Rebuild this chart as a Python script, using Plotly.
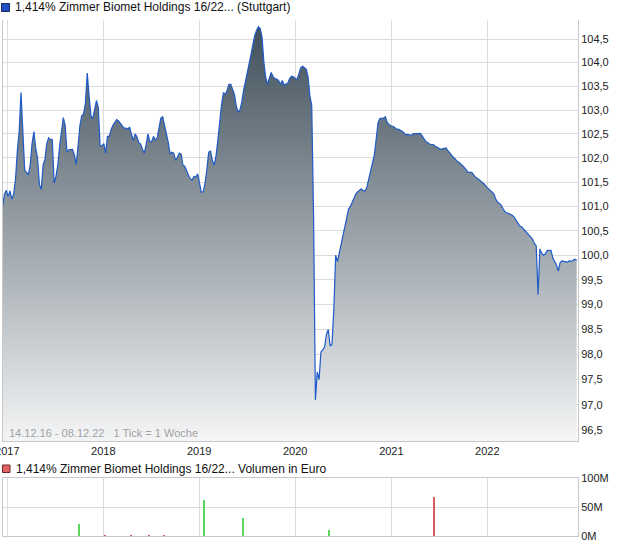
import plotly.graph_objects as go
import pandas as pd

# ---------------- data ----------------
start_date = "2016-12-14"          # 1 Tick = 1 Woche
price = [
    101.0, 101.25, 101.33, 101.2, 101.32, 101.15, 101.25, 101.55, 102.15, 102.55,
    103.37, 102.5, 101.75, 101.7, 101.65, 101.85, 102.3, 102.55, 102.2, 102.0,
    101.45, 101.35, 101.85, 101.97, 102.3, 102.42, 102.38, 102.38, 101.48, 101.62,
    101.85, 102.25, 102.58, 102.84, 102.68, 102.12, 102.17, 102.18, 102.18, 102.06,
    101.87, 102.25, 102.67, 102.88, 102.92, 103.15, 103.78, 103.3, 102.88, 102.82,
    103.05, 103.2, 103.05, 102.25, 102.25, 102.3, 102.1, 102.45, 102.45, 102.6,
    102.68, 102.75, 102.8, 102.77, 102.72, 102.68, 102.62, 102.62, 102.6, 102.64,
    102.48, 102.36, 102.5, 102.44, 102.32, 102.29, 102.18, 102.1, 102.28, 102.5,
    102.34, 102.34, 102.45, 102.37, 102.42, 102.65, 102.83, 102.86, 102.7, 102.55,
    102.33, 102.09, 102.12, 102.1, 101.95, 102.01, 102.1, 102.08, 101.85, 101.83,
    101.72, 101.64, 101.57, 101.54, 101.62, 101.6, 101.67, 101.5, 101.29, 101.3,
    101.47, 101.76, 102.12, 102.14, 101.95, 101.85, 102.05, 102.38, 102.76, 103.12,
    103.36, 103.33, 103.41, 103.54, 103.54, 103.44, 103.33, 103.08, 102.96, 103.0,
    103.17, 103.42, 103.6, 103.81, 103.92, 104.17, 104.38, 104.57, 104.68, 104.76,
    104.72, 104.54, 104.0, 103.68, 103.55, 103.66, 103.79, 103.7, 103.66, 103.65,
    103.62, 103.54, 103.62, 103.52, 103.54, 103.57, 103.66, 103.71, 103.7, 103.66,
    103.64, 103.76, 103.89, 103.92, 103.88, 103.86, 103.7, 103.3, 103.1, 100.8,
    97.1, 97.65, 97.5, 98.05, 98.09, 98.15, 98.4, 98.5, 98.17, 98.2,
    98.9, 100.0, 99.87, 100.06, 100.25, 100.42, 100.57, 100.76, 100.94, 101.0,
    101.1, 101.2, 101.26, 101.3, 101.33, 101.36, 101.32, 101.32, 101.4, 101.55,
    101.74, 101.91, 102.06, 102.38, 102.73, 102.82, 102.82, 102.83, 102.86, 102.74,
    102.7, 102.67, 102.66, 102.64, 102.6, 102.6, 102.58, 102.56, 102.53, 102.48,
    102.49, 102.48, 102.47, 102.5, 102.5, 102.5, 102.5, 102.51, 102.46, 102.41,
    102.34, 102.32, 102.29, 102.28, 102.28, 102.25, 102.23, 102.2, 102.18, 102.19,
    102.2, 102.21, 102.15, 102.1, 102.05, 102.01, 101.98, 101.93, 101.91, 101.88,
    101.84, 101.8, 101.76, 101.7, 101.7, 101.7, 101.65, 101.6, 101.58, 101.55,
    101.52, 101.48, 101.45, 101.4, 101.37, 101.33, 101.3, 101.26, 101.15, 101.09,
    101.06, 101.02, 100.95, 100.89, 100.87, 100.85, 100.84, 100.82, 100.78, 100.72,
    100.65, 100.6, 100.58, 100.54, 100.5, 100.46, 100.43, 100.39, 100.33, 100.24,
    100.19, 99.2, 100.13, 100.04, 100.0, 100.03, 100.1, 100.1, 100.1, 99.95,
    99.87, 99.8, 99.68, 99.85, 99.89, 99.87, 99.87, 99.86, 99.89, 99.87,
    99.9, 99.92, 99.9,
]
dates = pd.date_range(start_date, periods=len(price), freq="7D")

vol_dates = ["2017-10-03", "2018-01-07", "2018-04-16", "2018-06-26", "2018-08-22",
             "2019-01-18", "2019-06-19", "2020-05-09", "2021-06-14"]
vol_values = [20e6, 1.0e6, 0.8e6, 0.8e6, 0.8e6, 62e6, 31e6, 10e6, 67e6]
vol_dir = ["up", "down", "down", "down", "down", "up", "up", "up", "down"]

price_ticks = [96.5, 97.0, 97.5, 98.0, 98.5, 99.0, 99.5, 100.0, 100.5,
               101.0, 101.5, 102.0, 102.5, 103.0, 103.5, 104.0, 104.5]
price_ticktext = ["96,5", "97,0", "97,5", "98,0", "98,5", "99,0", "99,5", "100,0", "100,5",
                  "101,0", "101,5", "102,0", "102,5", "103,0", "103,5", "104,0", "104,5"]
vol_ticks = [0, 50e6, 100e6]
vol_ticktext = ["0M", "50M", "100M"]

title_price = "1,414% Zimmer Biomet Holdings 16/22... (Stuttgart)"
title_vol = "1,414% Zimmer Biomet Holdings 16/22... Volumen in Euro"
range_text = "14.12.16 - 08.12.22   1 Tick = 1 Woche"

# ---------------- figure ----------------
FONT = "Liberation Sans, Arial, sans-serif"
W, H = 620, 546
ml, mr, mt, mb = 3, 42, 20, 10
ph = H - mt - mb
pw = W - ml - mr


def py(y):  # pixel y -> paper fraction
    return (H - mb - y) / ph


def px(x):
    return (x - ml) / pw


dir_color = {"up": "#5cd65c", "down": "#d85c5c"}

fig = go.Figure()
fig.add_trace(go.Scatter(
    x=dates, y=price, mode="lines",
    line=dict(color="#1f5bc6", width=1.2),
    fill="tozeroy",
    fillgradient=dict(type="vertical",
                      colorscale=[[0, "#f4f5f6"], [1, "#3d4d59"]],
                      start=96.29, stop=104.9),
    hoverinfo="skip", showlegend=False,
    xaxis="x", yaxis="y",
))
fig.add_trace(go.Bar(
    x=vol_dates, y=vol_values,
    marker=dict(color=[dir_color[d] for d in vol_dir], line=dict(width=0)),
    width=5 * 86400000,
    showlegend=False, hoverinfo="skip",
    xaxis="x2", yaxis="y2",
))

grid = "#dcdcdc"
xr = ["2016-12-15 12:00", "2022-12-12"]
fig.update_layout(
    width=W, height=H,
    margin=dict(l=ml, r=mr, t=mt, b=mb, autoexpand=False),
    paper_bgcolor="white", plot_bgcolor="white",
    font=dict(family=FONT, size=11, color="#222"),
    xaxis=dict(domain=[0, 1], anchor="y", type="date", range=xr,
               tick0="2017-01-01", dtick="M12", tickformat="%Y",
               showgrid=True, gridcolor=grid, gridwidth=1,
               showline=True, linecolor="#c8c8c8", linewidth=1,
               ticks="", tickfont=dict(size=11, color="#222"), zeroline=False,
               automargin=False, ticklabeloverflow="allow"),
    yaxis=dict(domain=[py(441), 1], anchor="x", type="log", side="right",
               range=[1.983581, 2.020796],
               tickvals=price_ticks, ticktext=price_ticktext,
               showgrid=True, gridcolor=grid, gridwidth=1,
               showline=True, linecolor="#c8c8c8", mirror=True,
               ticks="", tickfont=dict(size=11, color="#222"), zeroline=False,
               automargin=False, ticklabeloverflow="allow"),
    xaxis2=dict(domain=[0, 1], anchor="y2", type="date", range=xr, matches="x",
                tick0="2017-01-01", dtick="M12", showticklabels=False,
                showgrid=True, gridcolor=grid,
                showline=True, linecolor="#c8c8c8", mirror=True, ticks="", zeroline=False,
                automargin=False),
    yaxis2=dict(domain=[0, py(478)], anchor="x2", side="right",
                range=[0, 100e6], tickvals=vol_ticks, ticktext=vol_ticktext,
                showgrid=True, gridcolor=grid,
                showline=True, linecolor="#c8c8c8", mirror=True,
                ticks="", tickfont=dict(size=11, color="#222"), zeroline=False,
                automargin=False, ticklabeloverflow="allow"),
    bargap=0,
)

# legend-like headers
fig.add_shape(type="rect", xref="paper", yref="paper",
              x0=px(1.5), x1=px(9.5), y0=py(11.5), y1=py(3.5),
              fillcolor="#1f4fc4", line=dict(color="#1a2c5c", width=1))
fig.add_annotation(xref="paper", yref="paper", x=px(13), y=py(7.5),
                   text=title_price, showarrow=False, xanchor="left", yanchor="middle",
                   font=dict(family=FONT, size=12, color="#111"))
fig.add_shape(type="rect", xref="paper", yref="paper",
              x0=px(2.5), x1=px(10), y0=py(472.5), y1=py(465),
              fillcolor="#e06464", line=dict(color="#6a2a2a", width=1))
fig.add_annotation(xref="paper", yref="paper", x=px(14), y=py(468.5),
                   text=title_vol, showarrow=False, xanchor="left", yanchor="middle",
                   font=dict(family=FONT, size=12, color="#111"))
fig.add_annotation(xref="paper", yref="paper", x=px(7), y=py(433),
                   text=range_text, showarrow=False, xanchor="left", yanchor="middle",
                   font=dict(family=FONT, size=11, color="#a2a2a2"))

fig.write_html("out.html",
               config={"displayModeBar": False},
               post_script="document.body.style.margin='0';document.body.style.overflow='hidden';")
